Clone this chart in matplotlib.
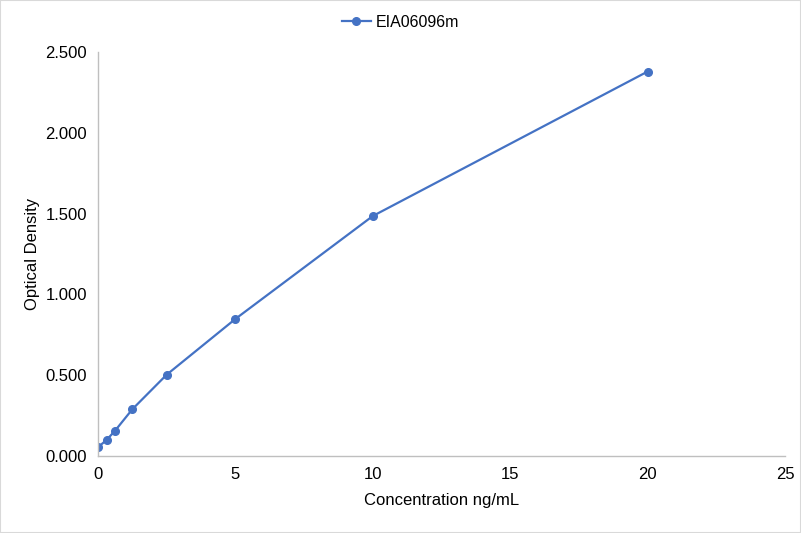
import matplotlib
matplotlib.use('Agg')
import matplotlib.pyplot as plt

plt.rcParams['font.family'] = ['Liberation Sans', 'DejaVu Sans']

# standard curve values
concentration = [0, 0.3125, 0.625, 1.25, 2.5, 5, 10, 20]
optical_density = [0.054, 0.099, 0.157, 0.289, 0.503, 0.848, 1.485, 2.379]
series_name = 'EIA06096m'

fig = plt.figure(figsize=(8.01, 5.33), dpi=100)
ax = fig.add_axes([0.1223, 0.1445, 0.8577, 0.7579])

# thin grey frame round the whole chart
fig.patches.append(plt.Rectangle((0, 0), 1, 1, transform=fig.transFigure,
                                 fill=False, edgecolor='#D9D9D9', linewidth=1.5))

ax.plot(concentration, optical_density, color='#4472C4', linewidth=1.6,
        marker='o', markersize=5.5, label=series_name)

ax.set_xlim(0, 25)
ax.set_ylim(0, 2.5)
ax.set_xticks([0, 5, 10, 15, 20, 25])
ax.set_yticks([0, 0.5, 1.0, 1.5, 2.0, 2.5])
ax.set_yticklabels(['%.3f' % v for v in ax.get_yticks()])

for side in ['top', 'right']:
    ax.spines[side].set_visible(False)
for side in ['left', 'bottom']:
    ax.spines[side].set_color('#BFBFBF')
    ax.spines[side].set_linewidth(1)
ax.tick_params(length=0, labelsize=12, colors='black')
ax.tick_params(axis='y', pad=8)
ax.tick_params(axis='x', pad=8)

ax.set_xlabel('Concentration ng/mL', fontsize=12, color='black', labelpad=8)
ax.set_ylabel('Optical Density', fontsize=12, color='black', labelpad=4)

ax.legend(loc='center', bbox_to_anchor=(0.4403, 1.074), frameon=False,
          fontsize=11.5, handlelength=1.8, handletextpad=0.3, labelcolor='black')

fig.savefig('out.png', dpi=100)
